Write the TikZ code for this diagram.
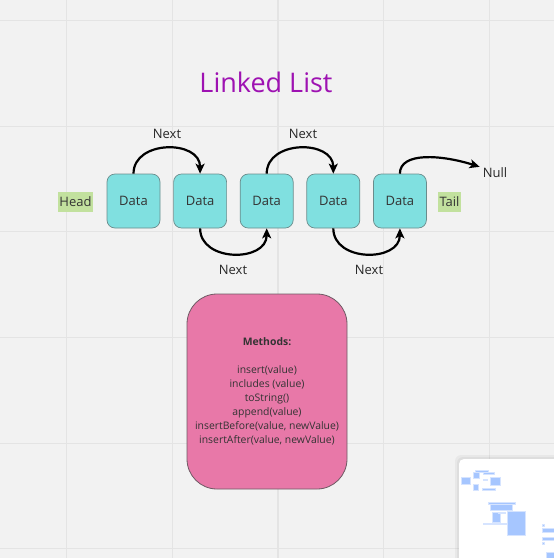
\documentclass[tikz,border=0pt]{standalone}
\usepackage{fontspec}
\setmainfont{Open Sans}
\usetikzlibrary{arrows.meta, positioning}
\definecolor{boardbg}{HTML}{F2F2F2}
\definecolor{gridline}{HTML}{E4E4E4}
\definecolor{datafill}{HTML}{80E0E0}
\definecolor{dataline}{HTML}{6A8C8C}
\definecolor{tagfill}{HTML}{C2E19E}
\definecolor{titlecol}{HTML}{9E12B2}
\definecolor{methodfill}{HTML}{E878A8}
\definecolor{methodline}{HTML}{6E5A64}
\definecolor{textcol}{HTML}{333333}
\definecolor{mapblue}{HTML}{A6C6FF}
\definecolor{mapedge}{HTML}{D6E4FF}

\begin{document}
\begin{tikzpicture}[x=1pt, y=-1pt, >=Stealth,
  databox/.style={draw=dataline, line width=0.7pt, fill=datafill, rounded corners=8pt,
    minimum width=53pt, minimum height=54pt, inner sep=0pt, text=textcol, font=\fontsize{13}{15}\selectfont},
  tagbox/.style={fill=tagfill, minimum height=20pt, inner sep=1.5pt, text=textcol, font=\fontsize{13}{15}\selectfont},
  label/.style={inner sep=2pt, text=black!85, font=\fontsize{13}{15}\selectfont},
  link/.style={->, line width=2.2pt, black, arrows={-Stealth[length=10pt, width=9pt, inset=2.5pt]}},
  methodsbox/.style={draw=methodline, line width=0.8pt, fill=methodfill, rounded corners=30pt,
    minimum width=160pt, minimum height=195pt, align=center, text=textcol,
    font=\fontsize{10.4}{14}\selectfont},
  mapbit/.style={fill=mapblue, draw=mapedge, line width=1pt}]

  \useasboundingbox (0,0) rectangle (554,558);
  \clip (0,0) rectangle (554,558);
  \fill[boardbg] (0,0) rectangle (554,558);

  % board grid
  \foreach \gx in {66.5,172.2,277.9,383.6,489.3}
    \draw[gridline, line width=1.2pt] (\gx,0) -- (\gx,558);
  \foreach \gy in {20.5,126.2,231.4,337.5,443.2,548.5}
    \draw[gridline, line width=1.2pt] (0,\gy) -- (554,\gy);

  \node[text=titlecol, font=\fontsize{27}{30}\selectfont] (title) at (266,82) {Linked List};

  % list nodes
  \foreach \i in {1,...,5}
    \node[databox] (d\i) at ({133.5+66.6*(\i-1)},201) {Data};

  \node[tagbox] (head) at (75.5,202) {Head};
  \node[tagbox] (tail) at (449.5,202) {Tail};
  \node[label, inner sep=1pt] (null) at (495,173) {Null};

  \draw[link] (d1.north) .. controls +(0,-34) and +(0,-34) .. (d2.north);
  \draw[link] (d2.south) .. controls +(0,34) and +(0,34) .. (d3.south);
  \draw[link] (d3.north) .. controls +(0,-34) and +(0,-34) .. (d4.north);
  \draw[link] (d4.south) .. controls +(0,34) and +(0,34) .. (d5.south);
  \draw[link] (d5.north) .. controls +(0,-22) and +(-38,-12) .. ([xshift=-2pt]null.north west);

  \node[label] (next1) at (167,134) {Next};
  \node[label] (next2) at (233,270) {Next};
  \node[label] (next3) at (303,134) {Next};
  \node[label] (next4) at (369,270) {Next};

  % methods card
  \node[methodsbox] (methods) at (267,391.5) {\textbf{Methods:}\\[14pt]
    insert(value)\\ includes (value)\\ toString()\\ append(value)\\
    insertBefore(value, newValue)\\ insertAfter(value, newValue)};

  % mini map
  \fill[black, opacity=0.04, rounded corners=6pt] (455,455) rectangle (570,570);
  \fill[black, opacity=0.04, rounded corners=6pt] (457,457) rectangle (570,570);
  \fill[white, rounded corners=5pt] (459,459) rectangle (570,570);
  \foreach \ax/\ay/\bx/\by in {475/470/488/472, 473/472/479/478, 483/472/494/474, 461/477/470/484,
      483/479/487/480, 490/477/500/485, 473/484/478/490, 482/488/495/490,
      488/502/515/504, 490/504/512/510, 492/512/500/522, 498/512/505/513,
      483/523/506/524, 507/511/525/535,
      542/528/554/532, 542/537/554/540, 542/524/544/526, 542/542/544/544, 546/552/554/558}
    \filldraw[mapbit] (\ax,\ay) rectangle (\bx,\by);
\end{tikzpicture}
\end{document}
